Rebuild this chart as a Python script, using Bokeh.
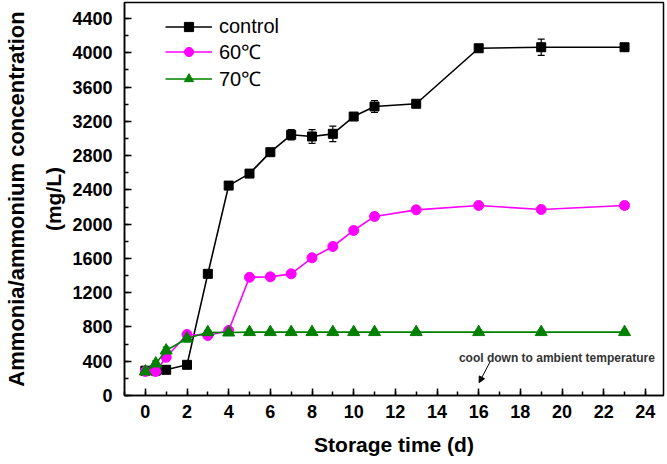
from bokeh.plotting import figure
from bokeh.models import (Range1d, LinearAxis, FixedTicker, Whisker, TeeHead, ColumnDataSource,
                          Arrow, NormalHead, Label, Legend)
from bokeh.embed import file_html
from bokeh.resources import INLINE

days = [0, 0.5, 1, 2, 3, 4, 5, 6, 7, 8, 9, 10, 11, 13, 16, 19, 23]
control = [290, 290, 300, 358, 1420, 2450, 2590, 2840, 3043, 3023, 3054, 3256, 3373, 3405, 4053, 4065, 4065]
control_err = [20, 20, 20, 30, 40, 30, 30, 30, 60, 80, 90, 40, 70, 30, 25, 95, 30]
t60 = [280, 280, 447, 712, 700, 759, 1380, 1385, 1420, 1607, 1739, 1926, 2090, 2167, 2218, 2171, 2218]
t60_err = [30, 30, 40, 30, 30, 20, 20, 20, 20, 20, 20, 20, 20, 20, 20, 20, 20]
t70 = [280, 373, 525, 665, 739, 735, 740, 740, 740, 740, 740, 740, 740, 740, 740, 740, 740]
t70_err = [40, 30, 40, 40, 20, 20, 20, 20, 20, 20, 20, 20, 20, 20, 20, 20, 20]

FONT = "Liberation Sans"

p = figure(width=665, height=461, output_backend="svg", toolbar_location=None,
           x_range=Range1d(-1.0, 24.87), y_range=Range1d(0, 4587),
           min_border_left=124, min_border_right=2, min_border_top=2, min_border_bottom=66)
p.grid.visible = False
p.outline_line_color = "black"
p.outline_line_width = 1.5
p.background_fill_color = "white"
p.border_fill_color = "white"

for ax in (p.xaxis[0], p.yaxis[0]):
    ax.axis_line_width = 1.5
    ax.major_tick_line_width = 1.5
    ax.minor_tick_line_width = 1.5
    ax.major_tick_in = 7
    ax.major_tick_out = 0
    ax.minor_tick_in = 4
    ax.minor_tick_out = 0
    ax.major_label_text_font = FONT
    ax.major_label_text_font_style = "bold"
    ax.major_label_text_font_size = "18px"
    ax.major_label_text_color = "black"
    ax.axis_label_text_font = FONT
    ax.axis_label_text_font_style = "bold"
    ax.axis_label_text_font_size = "21px"
    ax.axis_label_text_color = "black"

p.xaxis[0].ticker = FixedTicker(ticks=list(range(0, 25, 2)), minor_ticks=list(range(-1, 25)))
p.yaxis[0].ticker = FixedTicker(ticks=list(range(0, 4401, 400)), minor_ticks=list(range(0, 4590, 200)))
p.xaxis[0].major_label_standoff = 9
p.xaxis[0].axis_label = "Storage time (d)"
p.xaxis[0].axis_label_standoff = 12
p.yaxis[0].major_label_standoff = 12
p.yaxis[0].axis_label = "(mg/L)"
p.yaxis[0].axis_label_standoff = 4

outer = LinearAxis(ticker=FixedTicker(ticks=[]), axis_label="Ammonia/ammonium concentration",
                   axis_line_color=None, major_tick_line_color=None, minor_tick_line_color=None,
                   major_label_text_font_size="0px", axis_label_standoff=11,
                   axis_label_text_font=FONT, axis_label_text_font_style="bold",
                   axis_label_text_font_size="22px", axis_label_text_color="black")
p.add_layout(outer, "left")

src = ColumnDataSource(dict(x=days, c=control, cl=[v - e for v, e in zip(control, control_err)],
                            cu=[v + e for v, e in zip(control, control_err)],
                            m=t60, ml=[v - e for v, e in zip(t60, t60_err)], mu=[v + e for v, e in zip(t60, t60_err)],
                            g=t70, gl=[v - e for v, e in zip(t70, t70_err)], gu=[v + e for v, e in zip(t70, t70_err)]))

series = [("c", "cl", "cu", "black", "square", 9, "control"),
          ("m", "ml", "mu", "#ff00ff", "circle", 10, "60℃"),
          ("g", "gl", "gu", "#008000", "triangle", 12, "70℃")]

items = []
for col, lo, up, color, marker, size, name in series:
    w = Whisker(source=src, base="x", lower=lo, upper=up, line_color=color, line_width=1.2,
                upper_head=TeeHead(size=7, line_color=color, line_width=1.2),
                lower_head=TeeHead(size=7, line_color=color, line_width=1.2))
    p.add_layout(w)
    r1 = p.line("x", col, source=src, line_color=color, line_width=1.6)
    r2 = p.scatter("x", col, source=src, marker=marker, size=size, fill_color=color, line_color=color)
    items.append((name, [r1, r2]))

legend = Legend(items=items, location=(41, 303), padding=0, margin=0, spacing=0,
                glyph_width=47, glyph_height=23, label_height=23, label_standoff=7,
                label_text_font=FONT, label_text_font_size="20px", label_text_color="black",
                border_line_color=None, background_fill_alpha=0)
p.add_layout(legend)

p.add_layout(Label(x=15.05, y=440, text="cool down to ambient temperature", text_font=FONT,
                   text_font_style="bold", text_font_size="12px", text_color="#333333",
                   text_baseline="middle", text_align="left"))
p.add_layout(Arrow(x_start=16.55, y_start=395, x_end=16.02, y_end=150, line_color="black", line_width=1,
                   end=NormalHead(size=6, fill_color="black", line_color="black")))

open("out.html", "w").write(file_html(p, INLINE))
